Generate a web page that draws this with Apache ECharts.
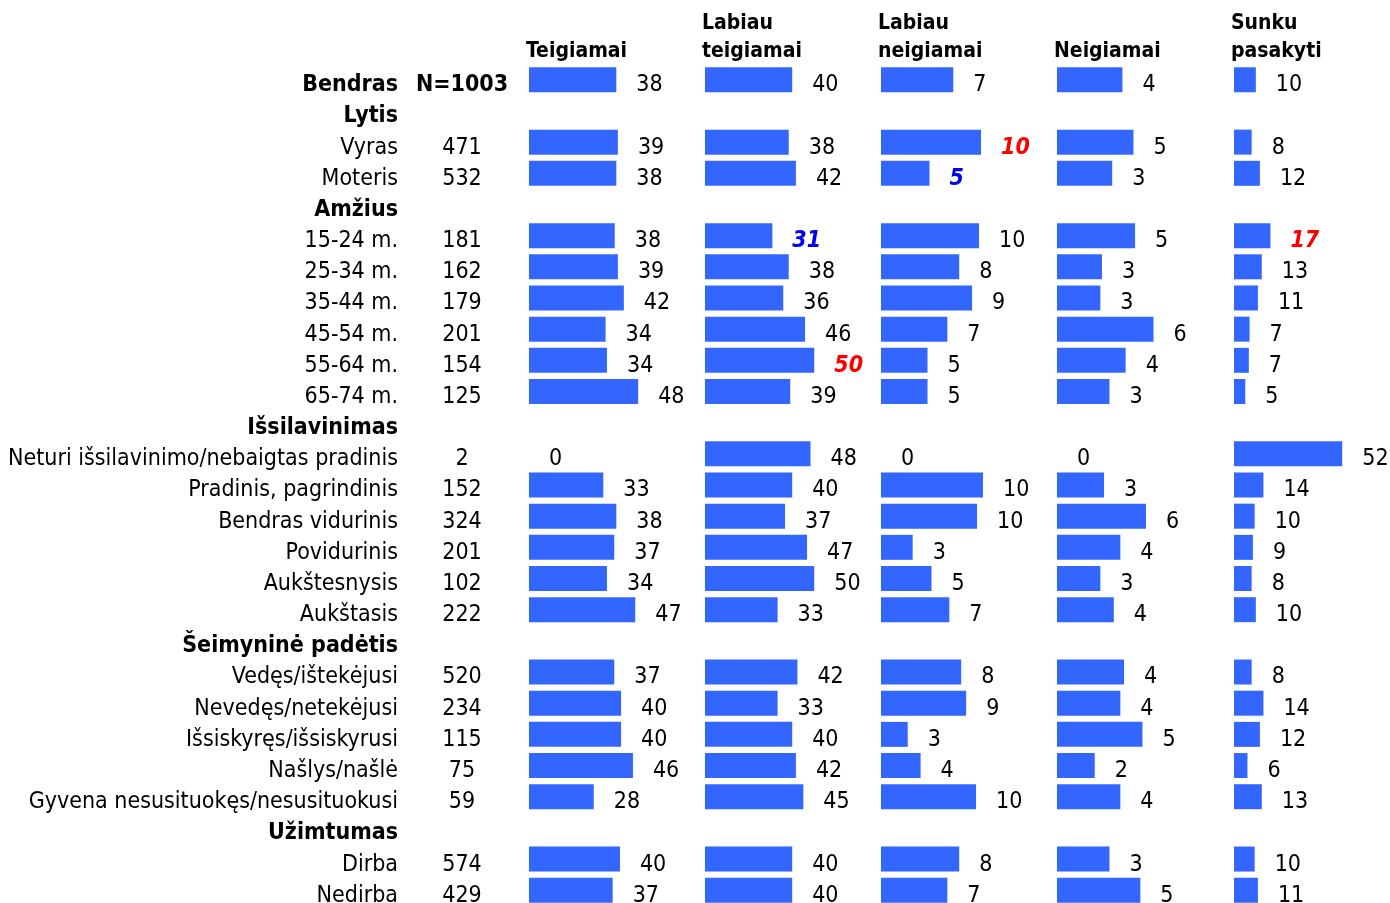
<!DOCTYPE html>
<html lang="lt">
<head>
<meta charset="utf-8">
<title>Vertinimas pagal grupes</title>
<script src="https://cdn.jsdelivr.net/npm/echarts@6/dist/echarts.min.js"></script>
<style>
  html, body { margin: 0; padding: 0; background: #fff; }
  #chart { width: 1390px; height: 903px; }
</style>
</head>
<body>
<div id="chart"></div>
<script>
// eilučių pavadinimai (grupės ir pogrupiai)
const rowLabels = [
  'Bendras', 'Lytis', 'Vyras', 'Moteris',
  'Amžius', '15-24 m.', '25-34 m.', '35-44 m.', '45-54 m.', '55-64 m.', '65-74 m.',
  'Išsilavinimas', 'Neturi išsilavinimo/nebaigtas pradinis', 'Pradinis, pagrindinis',
  'Bendras vidurinis', 'Povidurinis', 'Aukštesnysis', 'Aukštasis',
  'Šeimyninė padėtis', 'Vedęs/ištekėjusi', 'Nevedęs/netekėjusi', 'Išsiskyręs/išsiskyrusi',
  'Našlys/našlė', 'Gyvena nesusituokęs/nesusituokusi',
  'Užimtumas', 'Dirba', 'Nedirba',
]
// paryškintos eilutės
const boldRows = [0, 1, 4, 11, 18, 24]
const nValues = [
  'N=1003', '', '471', '532',
  '', '181', '162', '179', '201', '154', '125',
  '', '2', '152', '324', '201', '102', '222',
  '', '520', '234', '115', '75', '59',
  '', '574', '429',
]

const columns = ['Teigiamai', 'Labiau\nteigiamai', 'Labiau\nneigiamai', 'Neigiamai', 'Sunku\npasakyti']

const teigiamai = [
  38.3, null, 39.0, 38.3,
  null, 37.6, 39.0, 41.6, 33.6, 34.2, 47.9,
  null, 0, 32.6, 38.3, 37.4, 34.2, 46.6,
  null, 37.4, 40.4, 40.4, 45.6, 28.4,
  null, 39.9, 36.7,
]
const labiauTeigiamai = [
  40.0, null, 38.4, 41.7,
  null, 30.9, 38.4, 35.9, 45.9, 50.1, 39.1,
  null, 48.4, 40.0, 36.7, 46.8, 50.1, 33.3,
  null, 42.4, 33.3, 40.0, 41.7, 45.1,
  null, 40.0, 40.0,
]
const labiauNeigiamai = [
  7.3, null, 10.1, 4.9,
  null, 9.9, 7.9, 9.2, 6.7, 4.7, 4.7,
  null, 0, 10.3, 9.7, 3.2, 5.1, 6.9,
  null, 8.1, 8.6, 2.7, 4.0, 9.6,
  null, 7.9, 6.7,
]
const neigiamai = [
  4.09, null, 4.78, 3.45,
  null, 4.88, 2.81, 2.71, 6.03, 4.29, 3.28,
  null, 0, 2.94, 5.56, 3.96, 2.71, 3.55,
  null, 4.19, 3.96, 5.34, 2.36, 3.96,
  null, 3.28, 5.21,
]
const sunkuPasakyti = [
  10.45, null, 8.45, 12.4,
  null, 17.45, 13.3, 11.45, 7.45, 7.1, 5.4,
  null, 51.8, 14.1, 9.9, 9.05, 8.45, 10.45,
  null, 8.45, 14.1, 12.4, 6.45, 13.3,
  null, 9.9, 11.45,
]
const seriesData = [teigiamai, labiauTeigiamai, labiauNeigiamai, neigiamai, sunkuPasakyti]
// skalės maksimumas kiekvienam stulpeliui
const axisMax = [65.8, 68.8, 15.15, 9.375, 71.8]

// išskirtos reikšmės: [stulpelis, eilutė, spalva]
const highlights = [
  [2, 2, '#ff0000'],
  [2, 3, '#0000ee'],
  [1, 5, '#0000ee'],
  [4, 5, '#ff0000'],
  [1, 9, '#ff0000'],
]

const FONT = 'Tahoma, "DejaVu Sans Condensed", "Liberation Sans", sans-serif'
const BAR_COLOR = '#3366ff'
const panelLeft = [529, 705, 881, 1057, 1234]
const panelWidth = 150
const gridTop = 64.2
const gridHeight = 841.6

const chart = echarts.init(document.getElementById('chart'), null, { renderer: 'canvas' })

// outerBoundsMode: 'none' - kad etiketės nesuspaustų pirmo tinklelio
const grids = panelLeft.map((left) => ({
  left: left,
  top: gridTop,
  width: panelWidth,
  height: gridHeight,
  containLabel: false,
  outerBoundsMode: 'none',
}))

const xAxes = axisMax.map((max, i) => ({
  type: 'value',
  gridIndex: i,
  min: 0,
  max: max,
  show: false,
}))

// tekstas šiek tiek žemiau juostos centro
const textRich = {
  n: { fontFamily: FONT, fontSize: 23, color: '#000', padding: [11, 0, 0, 0] },
  b: { fontFamily: FONT, fontSize: 23, fontWeight: 'bold', color: '#000', padding: [11, 0, 0, 0] },
}

const rowFormatter = (value, idx) => (boldRows.includes(idx) ? `{b|${value}}` : `{n|${value}}`)

const yAxes = panelLeft.map((_, i) => ({
  type: 'category',
  gridIndex: i,
  inverse: true,
  data: rowLabels,
  axisLine: { show: false },
  axisTick: { show: false },
  splitLine: { show: false },
  axisLabel: {
    show: i === 0,
    interval: 0,
    margin: 131,
    formatter: rowFormatter,
    rich: textRich,
  },
}))

// N stulpelis
yAxes.push({
  type: 'category',
  gridIndex: 0,
  inverse: true,
  position: 'left',
  data: nValues,
  axisLine: { show: false },
  axisTick: { show: false },
  axisLabel: {
    margin: 67,
    align: 'center',
    interval: 0,
    formatter: rowFormatter,
    rich: textRich,
  },
})

const series = seriesData.map((values, col) => ({
  type: 'bar',
  xAxisIndex: col,
  yAxisIndex: col,
  barWidth: 25,
  itemStyle: { color: BAR_COLOR },
  data: values.map((v, row) => {
    const hl = highlights.find((h) => h[0] === col && h[1] === row)
    if (!hl) return v
    return {
      value: v,
      label: { color: hl[2], fontWeight: 'bold', fontStyle: 'italic' },
    }
  }),
  label: {
    show: true,
    position: 'right',
    distance: 20,
    offset: [0, 5.5],
    fontFamily: FONT,
    fontSize: 23,
    color: '#000',
    formatter: (p) => (p.value == null ? '' : String(Math.round(p.value))),
  },
  silent: true,
  animation: false,
}))

const titles = columns.map((name, i) => {
  const twoLines = name.includes('\n')
  return {
    text: name,
    left: panelLeft[i] - 3,
    top: twoLines ? 10 : 38,
    padding: 0,
    textStyle: {
      fontFamily: FONT,
      fontSize: 21,
      fontWeight: 'bold',
      color: '#000',
      lineHeight: 28,
    },
  }
})

const option = {
  animation: false,
  backgroundColor: '#fff',
  title: titles,
  grid: grids,
  xAxis: xAxes,
  yAxis: yAxes,
  series: series,
}

chart.setOption(option)
</script>
</body>
</html>
